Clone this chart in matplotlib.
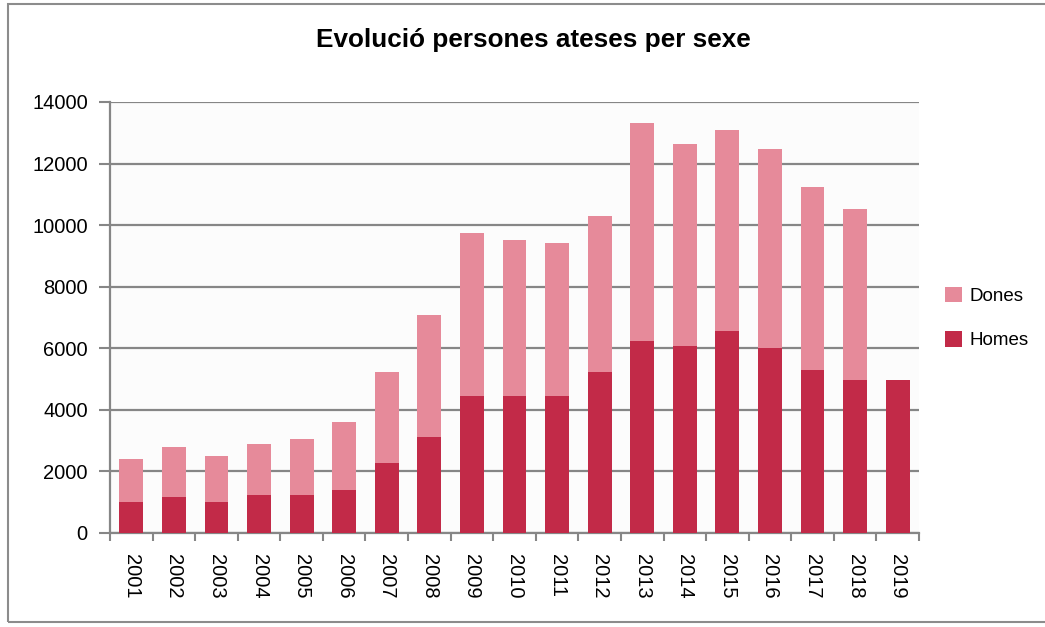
import numpy as np
import matplotlib
matplotlib.use("Agg")
import matplotlib.pyplot as plt
from matplotlib.patches import Rectangle

# Dades
anys = [str(a) for a in range(2001, 2020)]
homes = [1010, 1170, 1010, 1245, 1245, 1410, 2265, 3120, 4440, 4440, 4440,
         5220, 6240, 6075, 6550, 6010, 5295, 4980, 4980]
totals = [2415, 2805, 2490, 2880, 3040, 3595, 5220, 7090, 9745, 9505, 9430,
          10285, 13330, 12635, 13100, 12475, 11230, 10525, 4980]
dones = [t - h for t, h in zip(totals, homes)]

col_homes = '#C22A48'
col_dones = '#E68A9A'
gris = '#868686'

plt.rcParams['font.family'] = ['Liberation Sans', 'DejaVu Sans']

fig = plt.figure(figsize=(10.45, 6.27), dpi=100)
ax = fig.add_axes([110 / 1045, 1 - 533 / 627, 809 / 1045, 431 / 627])
ax.set_facecolor('#FCFCFC')

# Marc exterior
fig.patches.append(Rectangle((8 / 1045, 1 - 622 / 627), 1.2, 618 / 627,
                             transform=fig.transFigure, fill=False,
                             edgecolor='#8C8C8C', linewidth=1.5))

x = np.arange(len(anys))
ax.bar(x, homes, width=0.56, color=col_homes, label='Homes', zorder=3)
ax.bar(x, dones, width=0.56, bottom=homes, color=col_dones, label='Dones', zorder=3)

ax.set_xlim(-0.5, len(anys) - 0.5)
ax.set_ylim(0, 14000)
ax.set_yticks(range(0, 14001, 2000))
ax.yaxis.grid(True, color=gris, linewidth=1.6, zorder=0)
ax.set_axisbelow(True)

ax.set_xticks(x)
ax.set_xticklabels(anys, rotation=-90, fontsize=14.5)
ax.set_xticks(np.arange(-0.5, len(anys)), minor=True)
ax.tick_params(axis='x', which='major', length=0, pad=15)
ax.tick_params(axis='x', which='minor', length=6, width=1.5, color=gris)
ax.tick_params(axis='y', length=8, width=1.5, color=gris, labelsize=14.5, pad=8)

for s in ['top', 'right']:
    ax.spines[s].set_visible(False)
for s in ['left', 'bottom']:
    ax.spines[s].set_color(gris)
    ax.spines[s].set_linewidth(1.6)

fig.text(533 / 1045, 1 - 40 / 627, 'Evolució persones ateses per sexe', ha='center',
         va='center', fontsize=18.8, fontweight='bold')

handles, labels = ax.get_legend_handles_labels()
ax.legend(handles[::-1], labels[::-1], loc='center left',
          bbox_to_anchor=(928 / 1045, 1 - 318 / 627), bbox_transform=fig.transFigure,
          frameon=False, fontsize=13.5, handlelength=0.9, handleheight=0.9,
          handletextpad=0.4, labelspacing=1.4)

fig.savefig('out.png', dpi=100)
